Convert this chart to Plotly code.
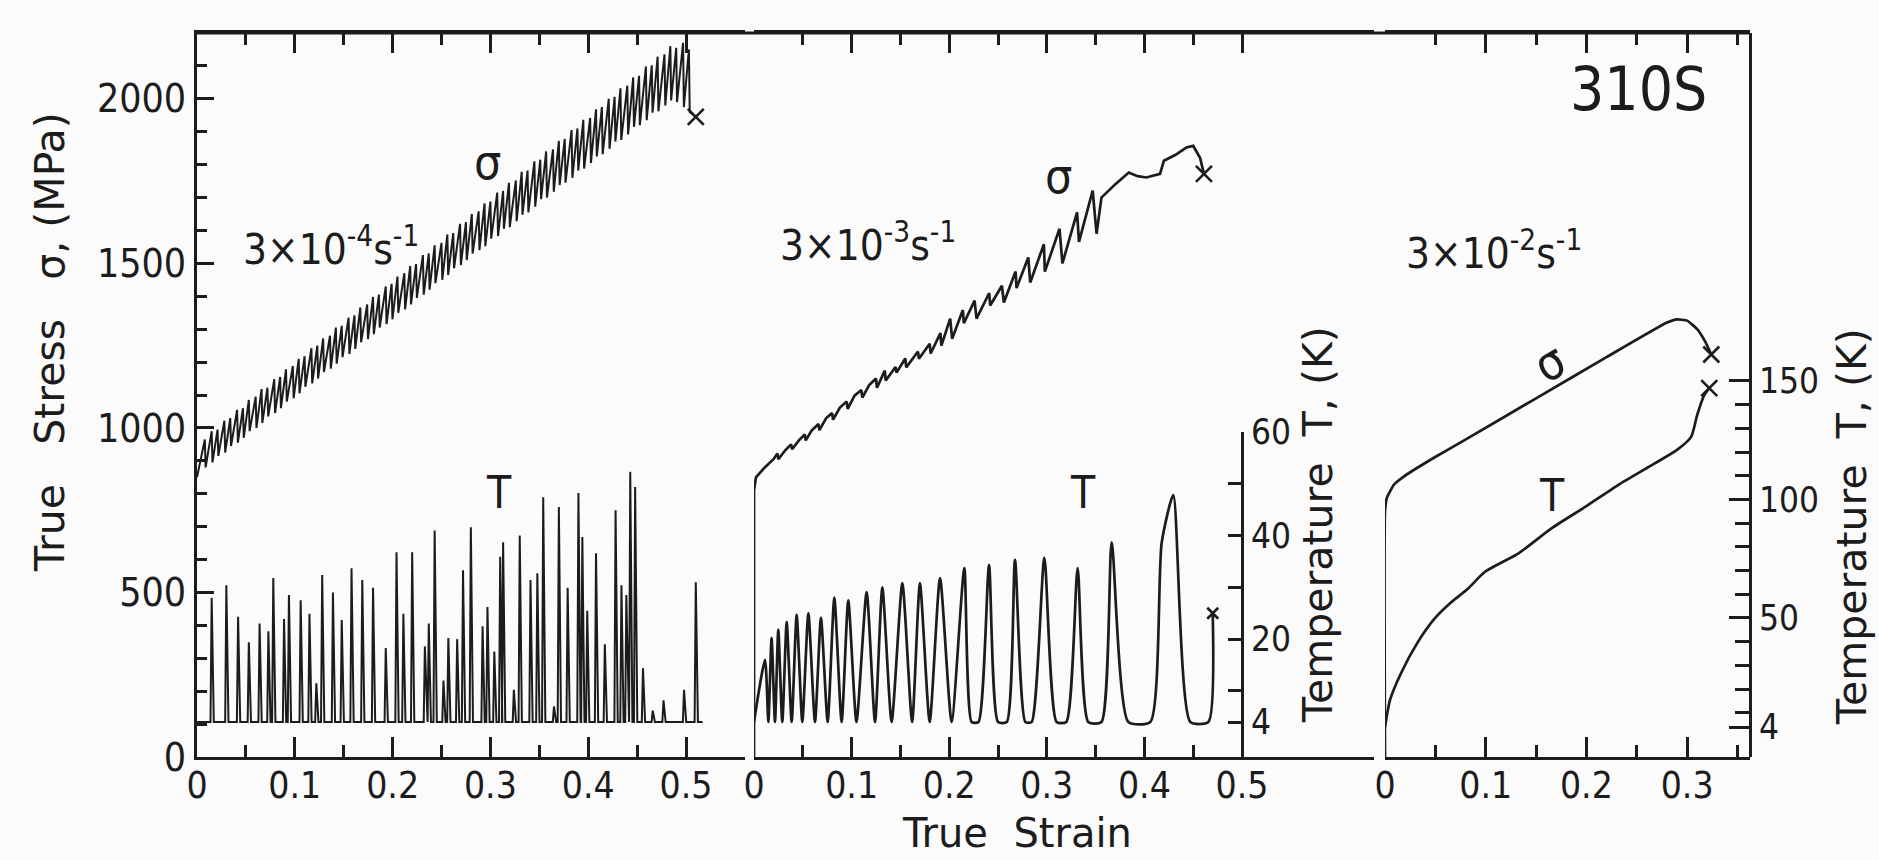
import plotly.graph_objects as go

INK = "#1c1c1c"
BG = "#fbfbfb"
FONT = "DejaVu Sans Condensed, DejaVu Sans, sans-serif"
TITLE_FONT = "DejaVu Sans, sans-serif"
NB = "\u00a0"

# ---------------- data ----------------
# 3x10^-4 s^-1 : serrated stress (strain of each load drop, stress before / after the drop)
s1_start = 850
s1_eps = [0.008, 0.015, 0.021, 0.028, 0.034, 0.041, 0.047, 0.053, 0.060, 0.066,
          0.072, 0.079, 0.085, 0.091, 0.098, 0.104, 0.110, 0.117, 0.123, 0.129,
          0.136, 0.142, 0.148, 0.155, 0.161, 0.167, 0.174, 0.180, 0.186, 0.193,
          0.199, 0.205, 0.212, 0.218, 0.224, 0.231, 0.237, 0.243, 0.250, 0.256,
          0.262, 0.269, 0.275, 0.281, 0.288, 0.294, 0.300, 0.307, 0.313, 0.319,
          0.326, 0.332, 0.338, 0.345, 0.351, 0.357, 0.364, 0.370, 0.376, 0.383,
          0.389, 0.395, 0.402, 0.408, 0.414, 0.421, 0.427, 0.433, 0.440, 0.446,
          0.452, 0.459, 0.465, 0.471, 0.478, 0.484, 0.490, 0.497, 0.503]
s1_top = [965, 990, 995, 1022, 1030, 1055, 1060, 1085, 1095, 1118,
          1122, 1148, 1155, 1178, 1188, 1210, 1218, 1242, 1250, 1272,
          1280, 1305, 1310, 1335, 1342, 1366, 1375, 1398, 1405, 1430,
          1438, 1460, 1470, 1492, 1498, 1525, 1530, 1555, 1562, 1588,
          1592, 1620, 1625, 1650, 1658, 1682, 1688, 1715, 1720, 1745,
          1752, 1778, 1782, 1810, 1815, 1840, 1846, 1872, 1878, 1905,
          1910, 1936, 1942, 1968, 1975, 2000, 2006, 2032, 2040, 2065,
          2070, 2098, 2102, 2128, 2135, 2160, 2155, 2170, 2150]
s1_bot = [880, 895, 915, 925, 945, 955, 970, 990, 1000, 1015,
          1035, 1045, 1060, 1080, 1090, 1105, 1125, 1135, 1150, 1170,
          1180, 1195, 1215, 1225, 1240, 1260, 1270, 1285, 1305, 1315,
          1330, 1350, 1360, 1375, 1395, 1405, 1420, 1440, 1450, 1465,
          1485, 1495, 1510, 1530, 1540, 1552, 1575, 1583, 1605, 1610,
          1628, 1648, 1655, 1672, 1695, 1700, 1718, 1738, 1745, 1760,
          1782, 1788, 1805, 1825, 1832, 1848, 1870, 1875, 1892, 1915,
          1920, 1935, 1958, 1962, 1980, 1995, 1990, 1975, 1960]
s1_fracture = (0.510, 1945)

# 3x10^-4 s^-1 : temperature bursts (strain, peak temperature K), base 4 K
t1_base = 4
t1_eps = [0.015, 0.030, 0.042, 0.053, 0.064, 0.073, 0.078, 0.089, 0.094, 0.106,
          0.115, 0.122, 0.128, 0.139, 0.148, 0.158, 0.169, 0.180, 0.193, 0.204,
          0.211, 0.220, 0.233, 0.237, 0.243, 0.252, 0.257, 0.266, 0.272, 0.280,
          0.292, 0.297, 0.304, 0.310, 0.313, 0.324, 0.330, 0.341, 0.348, 0.354,
          0.365, 0.370, 0.379, 0.390, 0.394, 0.399, 0.408, 0.417, 0.428, 0.434,
          0.439, 0.443, 0.448, 0.456, 0.466, 0.477, 0.498, 0.510]
t1_peak = [28, 30.4, 24.3, 19.4, 23, 21.5, 31.8, 23.9, 28.5, 27.5,
           24.9, 11.5, 32.4, 29, 23.7, 33.7, 31.4, 29.9, 18.3, 36.8,
           24.9, 36.8, 18.6, 23, 41, 12, 20.2, 20, 33.3, 41.6,
           22.5, 26.2, 17.6, 35.9, 38.7, 10.2, 40, 31.4, 32.7, 47.4,
           7, 45.5, 29.9, 48.2, 39.7, 25.5, 36.6, 19, 44.9, 30.4,
           28.5, 52.3, 49.4, 14.4, 6.2, 8.2, 10.2, 31]
t1_last = 0.517

# 3x10^-3 s^-1 : stress and temperature
s2_eps = [0, 0, 0.002, 0.011, 0.020, 0.024, 0.025, 0.032, 0.038, 0.039,
          0.046, 0.052, 0.053, 0.059, 0.066, 0.067, 0.074, 0.080, 0.081, 0.088,
          0.095, 0.096, 0.103, 0.110, 0.111, 0.118, 0.125, 0.126, 0.134, 0.135,
          0.145, 0.146, 0.155, 0.156, 0.168, 0.169, 0.180, 0.181, 0.191, 0.192,
          0.201, 0.203, 0.214, 0.215, 0.226, 0.228, 0.241, 0.242, 0.254, 0.256,
          0.268, 0.269, 0.281, 0.283, 0.297, 0.298, 0.313, 0.316, 0.331, 0.333,
          0.347, 0.351, 0.356, 0.370, 0.384, 0.393, 0.402, 0.416, 0.420, 0.432,
          0.443, 0.450, 0.457, 0.461]
s2_sig = [0, 810, 850, 880, 905, 922, 905, 932, 950, 935,
          962, 980, 962, 992, 1012, 993, 1030, 1045, 1025, 1062,
          1080, 1058, 1098, 1115, 1092, 1130, 1150, 1122, 1174, 1144,
          1185, 1168, 1211, 1184, 1232, 1210, 1256, 1226, 1288, 1250,
          1332, 1271, 1358, 1318, 1387, 1332, 1410, 1372, 1432, 1381,
          1475, 1425, 1518, 1442, 1558, 1475, 1605, 1500, 1655, 1565,
          1721, 1590, 1700, 1740, 1776, 1765, 1761, 1772, 1812, 1830,
          1852, 1857, 1821, 1772]

t2_eps = [0, 0.0113, 0.0147, 0.018, 0.0215, 0.0249, 0.029, 0.0335, 0.0386, 0.0437,
          0.0495, 0.0557, 0.0625, 0.0686, 0.0755, 0.0823, 0.0898, 0.0966, 0.105, 0.1154,
          0.124, 0.1315, 0.141, 0.152, 0.162, 0.170, 0.180, 0.1906, 0.2025, 0.2155,
          0.223, 0.230, 0.2408, 0.250, 0.259, 0.2674, 0.278, 0.2845, 0.2975, 0.310,
          0.320, 0.3316, 0.3425, 0.356, 0.3665, 0.3835, 0.406, 0.4177, 0.4296, 0.447,
          0.4655, 0.470]
t2_T = [4, 16, 4, 20.2, 4, 21.8, 4, 23.3, 4, 24.7,
        4, 25, 4, 24.1, 4, 28, 4, 27.5, 4, 29.1,
        4, 30, 4, 30.8, 4, 30.8, 4, 31.8, 4, 33.7,
        4, 4, 34.3, 4, 4, 35.3, 4, 4, 35.7, 4,
        4, 33.7, 4, 4, 38.7, 4, 4, 38.6, 47.8, 4,
        4, 25]

# 3x10^-2 s^-1 : stress and temperature
s3_eps = [0, 0, 0.002, 0.009, 0.019, 0.049, 0.082, 0.150, 0.220, 0.280, 0.290, 0.300, 0.310, 0.318, 0.324]
s3_sig = [0, 747, 789, 828, 853, 910, 968, 1090, 1215, 1320, 1330, 1326, 1300, 1262, 1223]
t3_eps = [0, 0.005, 0.016, 0.032, 0.049, 0.066, 0.082, 0.099, 0.133, 0.166,
          0.200, 0.233, 0.267, 0.290, 0.304, 0.310, 0.317, 0.322]
t3_T = [4, 15.4, 26.8, 39.4, 49.6, 56.7, 62.2, 69.4, 77.4, 88,
        97.2, 106.5, 115, 120.9, 126.4, 135.6, 144, 147]

strain_ticks_long = [0, 0.1, 0.2, 0.3, 0.4, 0.5]
strain_ticks_short_12 = [0.05, 0.15, 0.25, 0.35, 0.45]
strain_ticks_long_3 = [0, 0.1, 0.2, 0.3]
strain_ticks_short_3 = [0.05, 0.15, 0.25, 0.35]
stress_ticks = [0, 500, 1000, 1500, 2000]
stress_minor = [v for v in range(100, 2200, 100) if v % 500]
temp2_ticks = [4, 20, 40, 60]
temp2_minor = [10, 30, 50]
temp3_ticks = [4, 50, 100, 150]
temp3_minor = [10, 20, 30, 40, 60, 70, 80, 90, 110, 120, 130, 140]

# ---------------- geometry ----------------
W, H = 1879, 860
L, R, T, B = 197, 129, 33, 103
PW, PH = W - L - R, H - T - B


def fx(xp):
    return (xp - L) / PW


def fy(yp):
    return (H - B - yp) / PH


# ---------------- path building ----------------
p1x, p1y = [0], [s1_start]
for e, top, bot in zip(s1_eps, s1_top, s1_bot):
    p1x += [e, e + 0.0008]
    p1y += [top, bot]
p1x.append(s1_fracture[0])
p1y.append(s1_fracture[1])

q1x, q1y = [0], [t1_base]
for e, pk in zip(t1_eps, t1_peak):
    q1x += [e - 0.0012, e, e + 0.0022]
    q1y += [t1_base, pk, t1_base]
q1x.append(t1_last)
q1y.append(t1_base)

fig = go.Figure()
LW = 2.7
line = dict(color=INK, width=LW)

fig.add_trace(go.Scatter(x=p1x, y=p1y, xaxis="x", yaxis="y", mode="lines",
                         line=dict(color=INK, width=2.0)))
fig.add_trace(go.Scatter(x=q1x, y=q1y, xaxis="x", yaxis="y2", mode="lines",
                         line=dict(color=INK, width=2.0)))
fig.add_trace(go.Scatter(x=s2_eps, y=s2_sig, xaxis="x2", yaxis="y", mode="lines", line=line))
fig.add_trace(go.Scatter(x=t2_eps, y=t2_T, xaxis="x2", yaxis="y2", mode="lines",
                         line=dict(color=INK, width=LW, shape="spline", smoothing=0.6)))
fig.add_trace(go.Scatter(x=s3_eps, y=s3_sig, xaxis="x3", yaxis="y", mode="lines",
                         line=dict(color=INK, width=LW, shape="spline", smoothing=0.4)))
fig.add_trace(go.Scatter(x=t3_eps, y=t3_T, xaxis="x3", yaxis="y3", mode="lines",
                         line=dict(color=INK, width=LW, shape="spline", smoothing=0.6)))

# fracture marks
xmark = dict(symbol="x-thin", size=16, line=dict(color=INK, width=2.6), color=INK)
fig.add_trace(go.Scatter(x=[s1_fracture[0]], y=[s1_fracture[1]], xaxis="x", yaxis="y",
                         mode="markers", marker=xmark, cliponaxis=False))
fig.add_trace(go.Scatter(x=[s2_eps[-1]], y=[s2_sig[-1]], xaxis="x2", yaxis="y",
                         mode="markers", marker=xmark, cliponaxis=False))
fig.add_trace(go.Scatter(x=[t2_eps[-1]], y=[t2_T[-1]], xaxis="x2", yaxis="y2",
                         mode="markers", marker=dict(xmark, size=11), cliponaxis=False))
fig.add_trace(go.Scatter(x=[s3_eps[-1]], y=[s3_sig[-1]], xaxis="x3", yaxis="y",
                         mode="markers", marker=xmark, cliponaxis=False))
fig.add_trace(go.Scatter(x=[t3_eps[-1]], y=[t3_T[-1]], xaxis="x3", yaxis="y3",
                         mode="markers", marker=xmark, cliponaxis=False))

tickfont = dict(family=FONT, size=37, color=INK)


def strain_axis(domain, px_per_unit, long_ticks, short_ticks):
    span = (domain[1] - domain[0]) * PW / px_per_unit
    return dict(domain=domain, range=[0, span], anchor="y",
                showline=True, linewidth=3, linecolor=INK, mirror="ticks",
                ticks="inside", ticklen=20, tickwidth=2.5, tickcolor=INK,
                tickmode="array", tickvals=long_ticks, ticktext=[f"{v:g}" for v in long_ticks],
                minor=dict(tickmode="array", tickvals=short_ticks, ticks="inside",
                           ticklen=12, tickwidth=2.5, tickcolor=INK, showgrid=False),
                showgrid=False, zeroline=False, tickfont=tickfont, ticklabelstandoff=-6)


fig.update_layout(
    width=W, height=H,
    margin=dict(l=L, r=R, t=T, b=B, pad=0),
    paper_bgcolor=BG, plot_bgcolor="rgba(0,0,0,0)",
    showlegend=False,
    font=dict(family=FONT, color=INK),
    xaxis=strain_axis([0, fx(745)], 978, strain_ticks_long, strain_ticks_short_12),
    xaxis2=strain_axis([fx(754), fx(1374)], 976, strain_ticks_long, strain_ticks_short_12),
    xaxis3=strain_axis([fx(1385), 1], 1007, strain_ticks_long_3, strain_ticks_short_3),
    yaxis=dict(domain=[0, 1], range=[0, 2200], anchor="x", side="left",
               showline=True, linewidth=3, linecolor=INK,
               ticks="inside", ticklen=17, tickwidth=2.5, tickcolor=INK,
               tickmode="array", tickvals=stress_ticks,
               minor=dict(tickmode="array", tickvals=stress_minor, ticks="inside",
                          ticklen=10, tickwidth=2.5, tickcolor=INK, showgrid=False),
               showgrid=False, zeroline=False, tickfont=dict(tickfont, size=39)),
    yaxis2=dict(domain=[0, fy(432)], range=[4 - 35 / 5.18, 60], anchor="free",
                position=fx(1242), side="right",
                showline=True, linewidth=3, linecolor=INK,
                ticks="inside", ticklen=13, tickwidth=2.5, tickcolor=INK,
                tickmode="array", tickvals=temp2_ticks,
                minor=dict(tickmode="array", tickvals=temp2_minor, ticks="inside",
                           ticklen=13, tickwidth=2.5, tickcolor=INK, showgrid=False),
                showgrid=False, zeroline=False, tickfont=dict(tickfont, size=35)),
    yaxis3=dict(domain=[0, 1], range=[4 - 30 / 2.37, 4 + 694 / 2.37], anchor="free",
                position=1, side="right",
                showline=True, linewidth=3, linecolor=INK,
                ticks="inside", ticklen=20, tickwidth=2.5, tickcolor=INK,
                tickmode="array", tickvals=temp3_ticks,
                minor=dict(tickmode="array", tickvals=temp3_minor, ticks="inside",
                           ticklen=14, tickwidth=2.5, tickcolor=INK, showgrid=False),
                showgrid=False, zeroline=False, tickfont=dict(tickfont, size=35)),
)

# continuous top frame
fig.add_shape(type="line", xref="paper", yref="paper", x0=0, x1=1, y0=1, y1=1,
              line=dict(color=INK, width=3))


def note(text, x, y, size, angle=0, family=FONT, yanchor="middle"):
    fig.add_annotation(text=text, x=x, y=y, xref="paper", yref="paper", showarrow=False,
                       textangle=angle, xanchor="center", yanchor=yanchor,
                       font=dict(family=family, size=size, color=INK))


note("310S", fx(1638), fy(89), 60)
note("3×10<sup>-4</sup>s<sup>-1</sup>", fx(331), fy(246), 42)
note("3×10<sup>-3</sup>s<sup>-1</sup>", fx(868), fy(242), 42)
note("3×10<sup>-2</sup>s<sup>-1</sup>", fx(1494), fy(251), 42)
note("σ", fx(487), fy(162), 48)
note("σ", fx(1058), fy(176), 48)
note("σ", fx(1549), fy(363), 48, -30)
note("T", fx(499), fy(492), 44)
note("T", fx(1083), fy(492), 44)
note("T", fx(1552), fy(495), 44)
note("True" + NB * 2 + "Strain", fx(1017), fy(858), 40, family=TITLE_FONT, yanchor="bottom")
note("True" + NB * 3 + "Stress" + NB * 3 + "σ," + NB + "(MPa)", fx(50), fy(342), 41, -90,
     family=TITLE_FONT)
note("Temperature" + NB * 2 + "T," + NB + "(K)", fx(1318), fy(525), 41, -90, family=TITLE_FONT)
note("Temperature" + NB * 2 + "T," + NB + "(K)", fx(1852), fy(527), 41, -90, family=TITLE_FONT)

fig.write_html("out.html")
